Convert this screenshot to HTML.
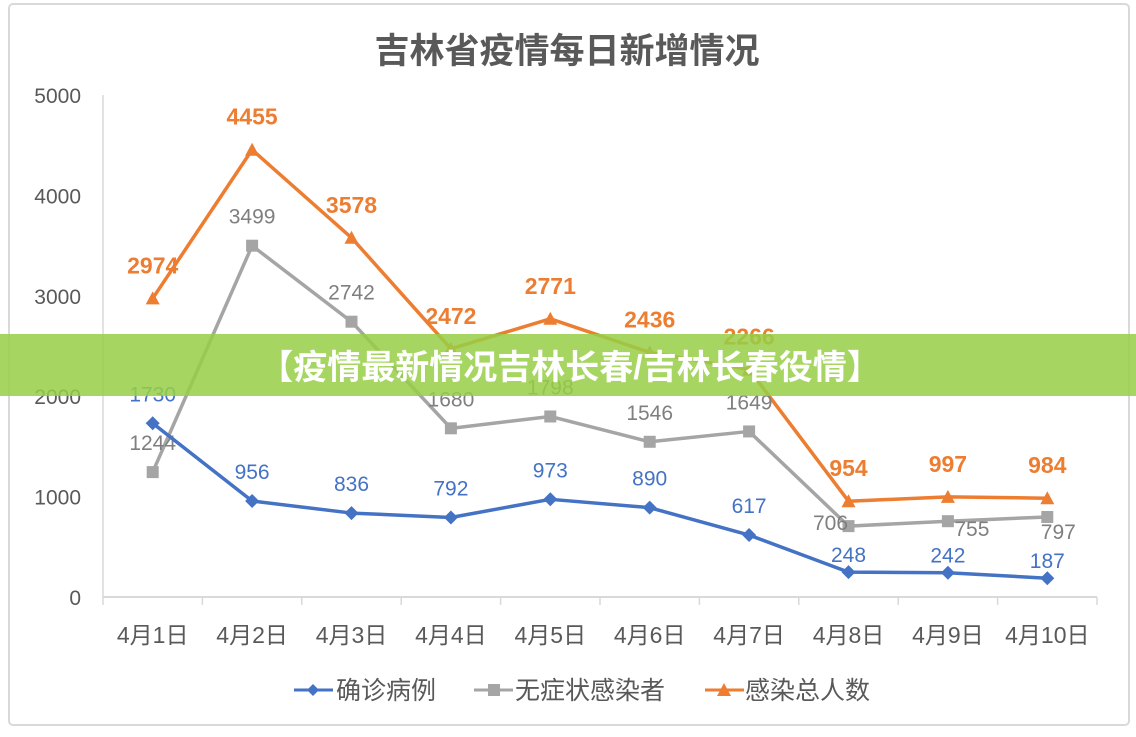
<!DOCTYPE html>
<html><head><meta charset="utf-8"><style>
body{margin:0;background:#fff;width:1136px;height:732px;overflow:hidden;font-family:"Liberation Sans","Noto Sans CJK SC",sans-serif}
svg text{font-family:"Liberation Sans","Noto Sans CJK SC",sans-serif}
</style></head><body>
<svg id="c" width="1136" height="732" xmlns="http://www.w3.org/2000/svg">
<rect x="9" y="4" width="1120" height="721" rx="4" fill="#fff" stroke="#d9d9d9" stroke-width="2"/>
<text x="567" y="63" text-anchor="middle" font-size="35" font-weight="bold" fill="#595959">吉林省疫情每日新增情况</text>
<g id="axes"></g><g id="series"></g>
<g>
<g><line x1="294" y1="690" x2="333" y2="690" stroke="#4472c4" stroke-width="3"/><path d="M313 684 L319 690 L313 696 L307 690Z" fill="#4472c4"/><text x="336" y="699" font-size="25" fill="#595959">确诊病例</text></g>
<g><line x1="474" y1="690" x2="513" y2="690" stroke="#a5a5a5" stroke-width="3"/><rect x="488" y="684" width="12" height="12" fill="#a5a5a5"/><text x="515" y="699" font-size="25" fill="#595959">无症状感染者</text></g>
<g><line x1="705" y1="690" x2="744" y2="690" stroke="#ed7d31" stroke-width="3"/><path d="M724 683 L731 696 L717 696Z" fill="#ed7d31"/><text x="745" y="699" font-size="25" fill="#595959">感染总人数</text></g>
</g>
<rect x="0" y="334" width="1136" height="62" fill="#97cf45" fill-opacity="0.85"/>
<text x="570" y="379" text-anchor="middle" font-size="34" font-weight="bold" fill="#fff">【疫情最新情况吉林长春/吉林长春役情】</text>
</svg>
<script>
const categories=["4月1日","4月2日","4月3日","4月4日","4月5日","4月6日","4月7日","4月8日","4月9日","4月10日"];
const confirmed=[1730,956,836,792,973,890,617,248,242,187];
const asymptomatic=[1244,3499,2742,1680,1798,1546,1649,706,755,797];
const total=[2974,4455,3578,2472,2771,2436,2266,954,997,984];
const yTicks=[0,1000,2000,3000,4000,5000];
const NS="http://www.w3.org/2000/svg";
const L=103,R=1097,T=95,B=597,MAX=5000;
const bw=(R-L)/categories.length;
const X=i=>L+bw*(i+0.5);
const Y=v=>B-(v/MAX)*(B-T);
function mk(tag,attrs,parent,txt){const e=document.createElementNS(NS,tag);for(const k in attrs)e.setAttribute(k,attrs[k]);if(txt!==undefined)e.textContent=txt;parent.appendChild(e);return e;}
const ax=document.getElementById('axes'),sr=document.getElementById('series');
let e=mk('line',{x1:L,y1:B,x2:R,y2:B,stroke:'#d9d9d9','stroke-width':2},ax);


e=mk('line',{x1:L,y1:T,x2:L,y2:B,stroke:'#d9d9d9','stroke-width':1.5},ax);


for(let i=0;i<=categories.length;i++){mk('line',{x1:L+bw*i,y1:B,x2:L+bw*i,y2:B+8,stroke:'#d9d9d9','stroke-width':1.5},ax);}
yTicks.forEach(v=>{e=mk('text',{x:81,y:Y(v)+8,'text-anchor':'end','font-size':21,fill:'#595959'},ax,v);

});
categories.forEach((c,i)=>{e=mk('text',{x:X(i),y:643,'text-anchor':'middle','font-size':23,fill:'#595959'},ax,c);

});
function series(vals,color,name,marker,labelFn,lc,bold,fs){
 const g=mk('g',{},sr);
 
 
 const p=mk('polyline',{points:vals.map((v,i)=>X(i)+','+Y(v)).join(' '),fill:'none',stroke:color,'stroke-width':3.5,'stroke-linejoin':'round'},g);
 
 
 vals.forEach((v,i)=>{const x=X(i),y=Y(v);let m;
  if(marker==='d')m=mk('path',{d:`M${x} ${y-7}L${x+7} ${y}L${x} ${y+7}L${x-7} ${y}Z`,fill:color},g);
  else if(marker==='s')m=mk('rect',{x:x-6,y:y-6,width:12,height:12,fill:color},g);
  else m=mk('path',{d:`M${x} ${y-7}L${x+7} ${y+6}L${x-7} ${y+6}Z`,fill:color},g);
  
  
  const o=labelFn(i);
  const t=mk('text',{x:x+o[0],y:y+o[1],'text-anchor':'middle','font-size':fs,fill:lc,'font-weight':bold?'bold':'normal'},g,v);
  
  });
}
series(total,'#ed7d31','total','t',()=>[0,-25],'#ed7d31',true,23);
series(asymptomatic,'#a5a5a5','asymptomatic','s',i=>i===7?[-18,4]:i===8?[24,15]:i===9?[11,22]:[0,-22],'#7f7f7f',false,21);
series(confirmed,'#4472c4','confirmed','d',i=>i>=7?[0,-10]:[0,-22],'#4472c4',false,21);
</script>
</body></html>
